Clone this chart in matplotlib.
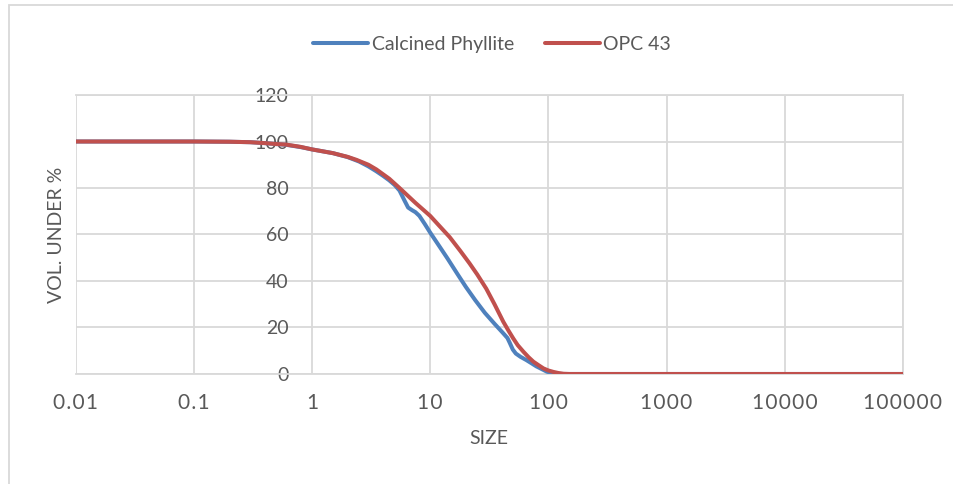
import numpy as np
import matplotlib
matplotlib.use("Agg")
import matplotlib.pyplot as plt
from matplotlib.patches import Rectangle
from matplotlib.ticker import FixedLocator, FixedFormatter, NullLocator

plt.rcParams['font.family'] = ['Lato', 'DejaVu Sans']

# particle size distribution
size_phyllite = [0.01, 0.05, 0.1, 0.2, 0.3, 0.4, 0.5, 0.6, 0.8, 1, 1.5, 2, 2.5, 3, 3.5, 4, 4.5,
                 5.0, 5.5, 6.06, 6.5, 7.0, 7.5, 8.1, 9, 10, 12, 14, 17, 20, 24, 29, 35, 41,
                 45, 47, 50, 53, 58, 65, 72, 79, 88, 97, 107, 117, 134,
                 1000, 10000, 100000]
vol_phyllite = [100, 100, 100, 99.9, 99.7, 99.3, 98.9, 98.6, 97.6, 96.6, 95.0, 93.3, 91.4, 89.3,
                87.2, 85.2, 83.3, 81.3, 78.9, 74.6, 71.6, 70.5, 69.6, 68.0, 64.5, 60.8, 54.8,
                49.7, 43.0, 37.5, 31.8, 26.3, 21.6, 17.8, 15.5, 13.5, 10.5, 8.8, 7.4, 6.0,
                4.6, 3.3, 2.1, 1.0, 0.4, 0.1, 0,
                0, 0, 0]

size_opc = [0.01, 0.05, 0.1, 0.2, 0.3, 0.4, 0.5, 0.6, 0.8, 1, 1.5, 2, 2.38, 3, 3.5, 4.5, 5.5,
            7.5, 10, 12, 14.6, 18, 21.5, 25, 29.8, 35, 41.5, 46, 50.4, 55, 61.4, 68, 74.6,
            83, 90.8, 100, 110, 122, 134, 150, 1000, 10000, 100000]
vol_opc = [100, 100, 100, 99.9, 99.7, 99.3, 98.9, 98.7, 97.7, 96.6, 95.0, 93.4, 92.1, 90.0,
           88.0, 84.0, 80.0, 73.6, 68.0, 63.6, 58.9, 52.9, 47.6, 42.8, 36.7, 30.0, 22.5,
           18.6, 15.3, 12.4, 9.6, 7.2, 5.3, 3.7, 2.4, 1.5, 0.9, 0.4, 0.1, 0, 0, 0, 0]

xticks = [0.01, 0.1, 1, 10, 100, 1000, 10000, 100000]
xtick_text = ['0.01', '0.1', '1', '10', '100', '1000', '10000', '100000']
yticks = [0, 20, 40, 60, 80, 100, 120]

grid_c = '#D9D9D9'
text_c = '#595959'

fig = plt.figure(figsize=(9.54, 4.84), dpi=100)
ax = fig.add_axes([0.0793, 0.2273, 0.8672, 0.5764])

ax.plot(size_phyllite, vol_phyllite, color='#4F81BD', lw=2.9, label='Calcined Phyllite',
        solid_capstyle='round', solid_joinstyle='round', zorder=3)
ax.plot(size_opc, vol_opc, color='#C0504D', lw=2.9, label='OPC 43',
        solid_capstyle='round', solid_joinstyle='round', zorder=4)

ax.set_xscale('log')
ax.set_xlim(0.01, 100000)
ax.set_ylim(0, 120)

# letter-spaced tick labels like the excel original
spaced = ['\u200a'.join(t) for t in xtick_text]
ax.xaxis.set_major_locator(FixedLocator(xticks))
ax.xaxis.set_major_formatter(FixedFormatter(spaced))
ax.xaxis.set_minor_locator(NullLocator())
ax.set_yticks(yticks)

ax.grid(True, color=grid_c, lw=1.3)
ax.set_axisbelow(True)
for s in ['top', 'right', 'bottom']:
    ax.spines[s].set_color(grid_c)
    ax.spines[s].set_linewidth(1.3)
# vertical axis crosses at size = 1
ax.spines['left'].set_position(('data', 1))
ax.spines['left'].set_visible(False)

ax.tick_params(axis='x', length=0, pad=14, labelsize=15, labelcolor=text_c)
ax.tick_params(axis='y', length=0, pad=17, labelsize=14, labelcolor=text_c)

ax.set_xlabel('SIZE', fontsize=14, color=text_c, labelpad=12)
ax.set_ylabel('VOL. UNDER %', fontsize=14, color=text_c)
ax.yaxis.set_label_coords(-0.013, 0.5)

fig.legend(loc='center', bbox_to_anchor=(0.516, 0.909), ncol=2, frameon=False,
           fontsize=14, handlelength=2.8, handletextpad=0.2, columnspacing=1.6,
           labelcolor=text_c)

fig.patches.append(Rectangle((9 / 954, -0.05), 1.1, 1 - 5 / 484 + 0.05, transform=fig.transFigure,
                             fill=False, edgecolor=grid_c, lw=1.3))

fig.savefig('out.png', dpi=100)
